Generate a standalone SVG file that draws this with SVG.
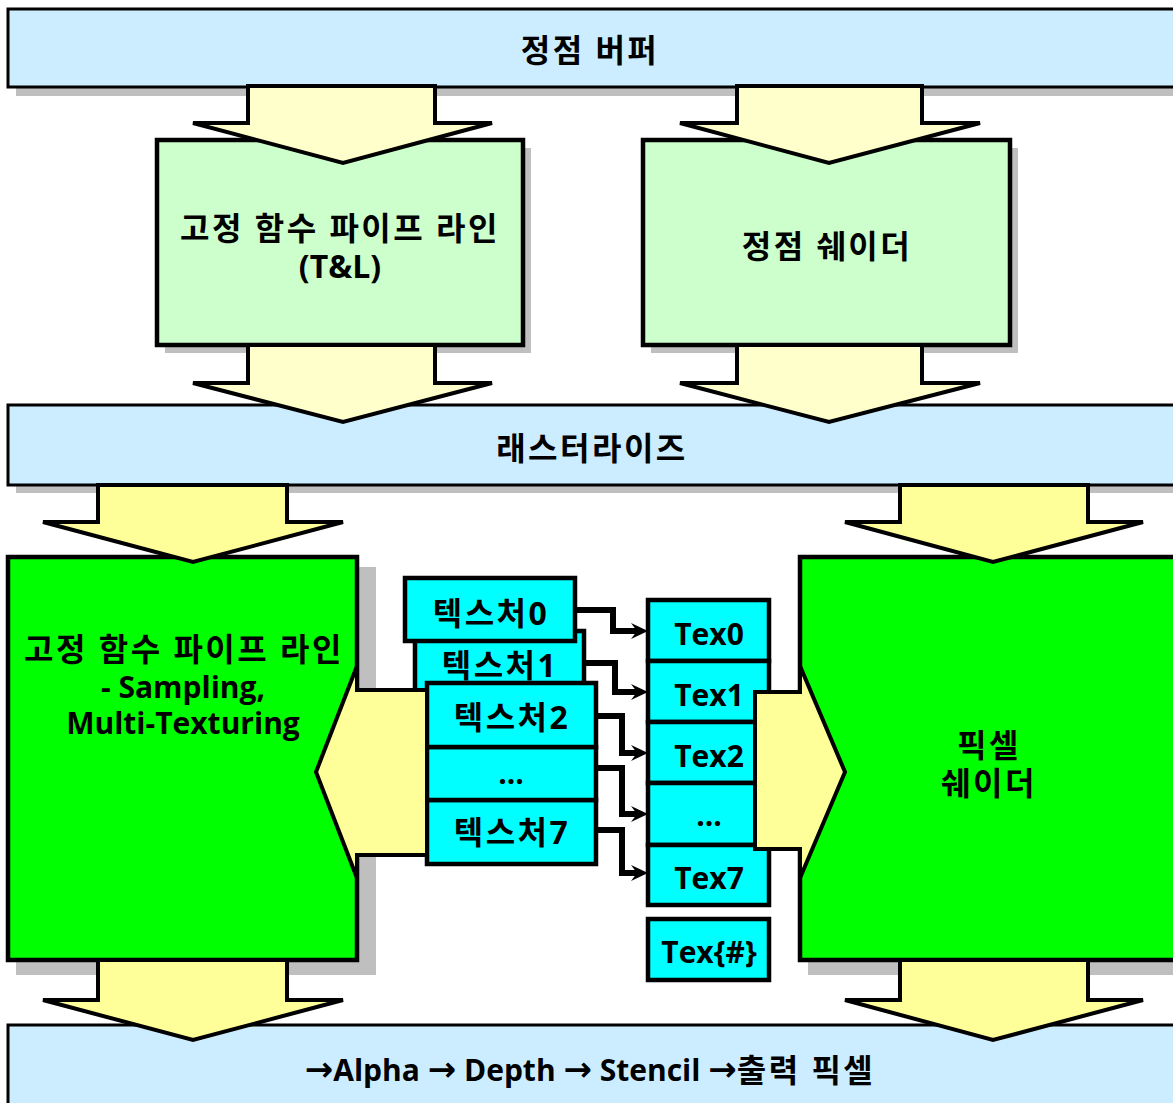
<svg xmlns="http://www.w3.org/2000/svg" width="1173" height="1103" viewBox="0 0 1173 1103">
<defs>
<style>
.bar{fill:#CCECFF;stroke:#000;stroke-width:3}
.sh{fill:#BFBFBF}
.lg{fill:#CCFFCC;stroke:#000;stroke-width:4.5}
.gr{fill:#00FF00;stroke:#000;stroke-width:4.5}
.cy{fill:#00FFFF;stroke:#000;stroke-width:4.5}
.ya{fill:#FFFFCC;stroke:#000;stroke-width:4;stroke-linejoin:miter}
.yb{fill:#FFFF99;stroke:#000;stroke-width:4;stroke-linejoin:miter}
.yf{fill:#FFFF99;stroke:none}
.yo{fill:none;stroke:#000;stroke-width:4;stroke-linejoin:miter}
.t{font-family:"Open Sans","Noto Sans CJK KR",sans-serif;font-weight:bold;font-size:30px;fill:#000;text-anchor:middle;dominant-baseline:central}
.k{font-size:32px;letter-spacing:2.5px}
.ar{font-family:"DejaVu Sans",sans-serif;font-size:34px}
.el{fill:none;stroke:#000;stroke-width:6;stroke-linejoin:miter}
</style>
<marker id="ah" markerUnits="userSpaceOnUse" markerWidth="18" markerHeight="18" viewBox="0 0 18 18" refX="6" refY="9" orient="auto">
<path d="M0,1 L17,9 L0,17 L6,9 Z" fill="#000"/>
</marker>
</defs>

<g id="vertex-buffer">
<rect class="sh" x="16" y="17" width="1170" height="79"/>
<rect class="bar" x="8" y="9" width="1180" height="78"/>
<text class="t k" x="590" y="49">정점 버퍼</text>
</g>

<g id="rasterize">
<rect class="sh" x="16" y="413" width="1170" height="80"/>
<rect class="bar" x="8" y="405" width="1180" height="80"/>
<text class="t k" x="592" y="447">래스터라이즈</text>
</g>

<g id="output">
<rect class="bar" x="8" y="1025" width="1180" height="100"/>
<text class="t" x="590" y="1069"><tspan class="ar">→</tspan>Alpha <tspan class="ar">→</tspan> Depth <tspan class="ar">→</tspan> Stencil <tspan class="ar">→</tspan><tspan class="k">출력 픽셀</tspan></text>
</g>

<g id="fixed-tl">
<rect class="sh" x="165" y="148" width="366" height="205"/>
<rect class="lg" x="157" y="140" width="366" height="205"/>
<text class="t k" x="340" y="227">고정 함수 파이프 라인</text>
<text class="t" x="340" y="265" style="font-size:32px">(T&amp;L)</text>
</g>

<g id="vertex-shader">
<rect class="sh" x="651" y="148" width="367" height="205"/>
<rect class="lg" x="643" y="140" width="367" height="205"/>
<text class="t k" x="827" y="245">정점 쉐이더</text>
</g>

<g id="fixed-sampling">
<rect class="sh" x="16" y="567" width="360" height="408"/>
<rect class="gr" x="8" y="557" width="349" height="403"/>
<text class="t k" x="184" y="648">고정 함수 파이프 라인</text>
<text class="t" x="183" y="686">- Sampling,</text>
<text class="t" x="183" y="722">Multi-Texturing</text>
</g>

<g id="pixel-shader">
<rect class="sh" x="808" y="567" width="380" height="408"/>
<rect class="gr" x="800" y="557" width="390" height="403"/>
<text class="t k" x="989" y="744">픽셀</text>
<text class="t k" x="989" y="782">쉐이더</text>
</g>

<g id="tex-stage-7">
<rect class="cy" x="427" y="800" width="169" height="64"/>
<text class="t k" x="512" y="831">텍스처7</text>
</g>
<g id="tex-stage-dots">
<rect class="cy" x="427" y="747" width="169" height="53"/>
<text class="t" x="511" y="772">...</text>
</g>
<g id="tex-stage-1">
<rect class="cy" x="415" y="631" width="169" height="64"/>
<text class="t k" x="500" y="664">텍스처1</text>
</g>
<g id="tex-stage-2">
<rect class="cy" x="427" y="683" width="169" height="64"/>
<text class="t k" x="512" y="716">텍스처2</text>
</g>
<g id="tex-stage-0">
<rect class="cy" x="405" y="578" width="170" height="63"/>
<text class="t k" x="491" y="612">텍스처0</text>
</g>

<g id="tex0">
<rect class="cy" x="648" y="600" width="121" height="61"/>
<text class="t" x="709" y="633">Tex0</text>
</g>
<g id="tex1">
<rect class="cy" x="648" y="661" width="121" height="61"/>
<text class="t" x="709" y="694">Tex1</text>
</g>
<g id="tex2">
<rect class="cy" x="648" y="722" width="121" height="61"/>
<text class="t" x="709" y="755">Tex2</text>
</g>
<g id="tex-dots">
<rect class="cy" x="648" y="783" width="121" height="62"/>
<text class="t" x="709" y="814">...</text>
</g>
<g id="tex7">
<rect class="cy" x="648" y="845" width="121" height="60"/>
<text class="t" x="709" y="877">Tex7</text>
</g>
<g id="texn">
<rect class="cy" x="648" y="919" width="121" height="61"/>
<text class="t" x="709" y="951">Tex{#}</text>
</g>

<g id="connectors">
<polygon class="ya" points="248,86 435,86 435,123 492,123 343,163 193,123 248,123"/>
<polygon class="ya" points="737,86 922,86 922,123 980,123 829,163 680,123 737,123"/>
<polygon class="ya" points="248,345 435,345 435,383 492,383 343,422 193,383 248,383"/>
<polygon class="ya" points="737,345 922,345 922,383 980,383 829,422 680,383 737,383"/>
<polygon class="yb" points="98,485 287,485 287,522 343,522 193,562 43,522 98,522"/>
<polygon class="yb" points="900,485 1088,485 1088,522 1143,522 993,562 845,522 900,522"/>
<polygon class="yb" points="98,960 287,960 287,1000 343,1000 193,1040 43,1000 98,1000"/>
<polygon class="yb" points="900,960 1088,960 1088,1000 1143,1000 993,1040 845,1000 900,1000"/>
<polygon class="yf" points="425,690 357,690 357,666 316,772 357,878 357,855 425,855"/>
<polyline class="yo" points="425,690 357,690 357,666 316,772 357,878 357,855 425,855"/>
<polygon class="yb" points="755,692 800,692 800,666 845,772 800,878 800,849 755,849"/>
<polyline class="el" points="575,610 613,610 613,631 637,631" marker-end="url(#ah)"/>
<polyline class="el" points="584,663 615,663 615,692 637,692" marker-end="url(#ah)"/>
<polyline class="el" points="596,716 622,716 622,753 637,753" marker-end="url(#ah)"/>
<polyline class="el" points="596,768 622,768 622,814 637,814" marker-end="url(#ah)"/>
<polyline class="el" points="596,830 622,830 622,873 637,873" marker-end="url(#ah)"/>
</g>
</svg>
